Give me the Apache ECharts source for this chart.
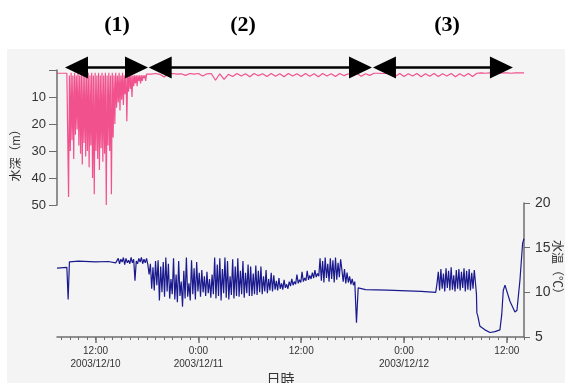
<!DOCTYPE html>
<html>
<head>
<meta charset="utf-8">
<script src="https://cdn.jsdelivr.net/npm/echarts@6/dist/echarts.min.js"></script>
<style>
  html, body { margin: 0; padding: 0; background: #fff; }
  #chart { width: 565px; height: 383px; }
</style>
</head>
<body>
<div id="chart"></div>
<script>
// all times are hours counted from 2003/12/10 0:00
const axisStartHour = 7.5;
const axisEndHour = 62;
const labelHours = [12, 24, 36, 48, 60];
const labelTexts = ['12:00\n2003/12/10', '0:00\n2003/12/11', '12:00', '0:00\n2003/12/12', '12:00'];
const periodNames = ['(1)', '(2)', '(3)'];
const periodHours = [[8.43, 18.12], [18.2, 44.26], [44.37, 60.71]];

// depth (m)
const depthLead = [[7.5, 1.2], [8.65, 1.2]];
const depthDiveStart = 8.75;
const depthDiveStep = 0.1;
const depthDives = [
  1, 47, 2, 30, 1, 26, 2, 33, 1, 24,
  2, 22, 1, 28, 2, 31, 1, 35, 2, 27,
  1, 32, 2, 30, 1, 36, 2, 28, 1, 40,
  2, 46, 1, 30, 2, 33, 1, 37, 2, 29,
  1, 34, 2, 31, 1, 50, 2, 28, 1, 30,
  2, 46, 1, 25, 2, 20, 1, 14, 2, 12,
  1, 15, 2, 11, 1, 13, 2, 9, 1, 19,
  2, 8, 1, 7, 2, 10, 2, 6, 2, 5,
  2, 6, 2, 4, 2, 5, 2, 4, 2, 3,
  2, 4, 1.5
];
const depthSurfaceStart = 18.5;
const depthSurfaceStep = 0.5;
const depthSurface = [
  1.5, 1.3, 1.6, 2.6, 1.4, 1.3, 1.5,
  1.4, 2.0, 1.3, 1.5, 1.3, 2.2, 1.4, 1.3,
  3.8, 1.4, 3.5, 1.6,
  2.4, 1.3, 2.2, 1.4, 2.5, 1.3, 2.1, 1.4, 2.4, 1.3, 2.3, 1.4, 2.5, 1.3,
  2.2, 1.4, 2.4, 1.3, 2.3, 1.4, 2.5, 1.3, 2.2, 1.4, 2.4, 1.3, 2.1, 1.4,
  2.2, 1.3, 2.3, 1.4, 2.0, 1.2,
  1.2, 1.3, 1.2, 1.3,
  2.3, 1.3, 2.4, 1.4, 2.2, 1.3, 2.5, 1.4, 2.3, 1.3,
  2.4, 1.4, 2.2, 1.3, 2.5, 1.4, 2.3, 1.3, 2.4, 1.2,
  1.1, 1.2, 1.1, 1.1, 1.2, 1.1, 1.1, 1.2, 1.1, 1.1, 1.1
];

// water temperature (°C)
const tempLead = [[7.5, 12.7], [8.65, 12.8], [8.8, 9.2], [8.95, 13.4], [10, 13.5], [12, 13.4], [13.5, 13.45], [14.35, 13.3]];
const tempNoisyAStart = 14.5;
const tempNoisyAStep = 0.15;
const tempNoisyA = [
  13.3, 13.8, 13.2, 13.7, 13.4, 13.9, 13.1, 13.8, 13.3, 13.6, 13.2, 13.9, 13.3, 13.7, 11.3,
  13.5, 13.2, 13.8, 13.4, 13.9, 13.2, 13.7, 13.3, 13.8, 13.1,
  12.0, 13.2, 10.4, 12.8, 10.2, 13.5, 10.8, 13.6, 9.1, 12.9, 10.0, 13.4,
  9.5, 13.9, 10.1, 13.2, 9.3, 11.5, 9.8, 13.8, 9.2, 12.0, 8.9, 13.5, 9.6, 11.2, 8.4, 12.4, 9.3, 13.9, 9.5, 11.0,
  9.1, 13.6, 9.8, 12.7, 9.2, 13.4, 10.1, 12.2,
  9.5, 12.5, 10.0, 11.8, 9.6, 12.3, 9.9, 11.5, 9.4, 12.0, 9.8,
  13.9, 9.3, 13.1, 9.6, 13.8, 9.1, 12.6, 9.9, 13.9, 9.4, 13.5, 9.2, 11.8, 9.7,
  13.7, 9.3, 12.9, 9.6, 13.8, 9.5, 12.4, 9.8, 13.5, 9.4, 12.2, 9.9, 13.1, 9.6,
  12.9, 9.6, 12.1, 9.8, 13.0, 9.7, 12.4, 10.0, 12.9, 9.8, 11.8, 10.1, 12.5, 9.9, 11.5, 10.2,
  12.2, 10.1, 11.9, 10.3, 11.3, 10.2, 11.6, 10.4, 11.0, 10.3, 11.4, 10.5, 10.9, 10.4, 11.2,
  10.7, 11.5, 10.8, 11.2, 10.9, 12.0, 11.0, 11.4, 11.1, 12.3, 11.2, 11.6,
  11.3, 12.4, 11.4, 11.9, 11.5, 12.2, 11.6, 12.5, 11.7, 12.1, 11.8,
  13.8, 11.3, 13.5, 11.1, 13.9, 11.6, 13.2, 11.2, 13.8, 11.5, 13.6, 11.1, 13.9, 11.4, 13.3, 11.7, 13.7,
  12.5, 11.2, 12.6, 11.0, 12.2, 11.1, 11.8, 10.9, 11.5, 10.8, 11.2
];
const tempMid = [[42.45, 6.6], [42.65, 10.5], [43.5, 10.3], [46, 10.25], [50, 10.1], [51.7, 10.0]];
const tempNoisyBStart = 51.85;
const tempNoisyBStep = 0.15;
const tempNoisyB = [
  11.0, 12.3, 10.2, 12.6, 10.4, 12.1, 10.1, 12.7, 10.5, 12.4,
  10.2, 12.8, 10.3, 11.9, 10.1, 12.5, 10.4, 12.6, 10.2, 12.3,
  10.5, 12.7, 10.1, 12.4, 10.3, 12.6, 10.2, 12.2, 10.4, 12.5, 10.9
];
const tempTail = [
  [56.45, 9.8], [56.5, 7.7], [56.6, 7.4], [56.86, 6.2], [57.44, 5.8], [58.03, 5.5],
  [58.61, 5.6], [59.19, 5.8], [59.4, 7.5], [59.58, 10.2], [59.78, 10.8], [60.36, 9.0],
  [60.94, 7.8], [61.18, 8.0], [61.53, 11.4], [61.84, 15.5], [62.0, 16.0]
];

function regular(start, step, values) {
  return values.map((v, i) => [start + i * step, v]);
}

const depthData = depthLead
  .concat(regular(depthDiveStart, depthDiveStep, depthDives))
  .concat(regular(depthSurfaceStart, depthSurfaceStep, depthSurface));
const tempData = tempLead
  .concat(regular(tempNoisyAStart, tempNoisyAStep, tempNoisyA))
  .concat(tempMid)
  .concat(regular(tempNoisyBStart, tempNoisyBStep, tempNoisyB))
  .concat(tempTail);

const tickHours = [];
for (let h = Math.ceil(axisStartHour); h <= axisEndHour; h++) tickHours.push(h);

const font = '"Liberation Sans", "Noto Sans CJK JP", sans-serif';
const axisColor = '#6e6e6e';
const textColor = '#333';

const chart = echarts.init(document.getElementById('chart'), null, { renderer: 'canvas' });

const option = {
  animation: false,
  backgroundColor: '#fff',
  textStyle: { fontFamily: font, color: textColor },
  grid: [
    { left: 57, right: 41, top: 70, height: 135, outerBoundsMode: 'none', containLabel: false },
    { left: 57, right: 41, top: 203, height: 134, outerBoundsMode: 'none', containLabel: false }
  ],
  xAxis: [
    { gridIndex: 0, type: 'value', min: axisStartHour, max: axisEndHour, show: false },
    {
      gridIndex: 1, type: 'value', position: 'bottom', min: axisStartHour, max: axisEndHour,
      axisLine: { lineStyle: { color: axisColor, width: 1.5 } },
      axisTick: { customValues: tickHours, length: 3, lineStyle: { color: axisColor } },
      axisLabel: {
        customValues: labelHours,
        formatter: v => labelTexts[labelHours.indexOf(Math.round(v))] || '',
        fontSize: 10, color: textColor, margin: 8, lineHeight: 13
      },
      splitLine: { show: false },
      name: '日時', nameLocation: 'middle', nameGap: 36, nameMoveOverlap: false,
      nameTextStyle: { fontSize: 14, color: textColor, padding: [0, 20, 0, 0] }
    },
    {
      gridIndex: 1, type: 'value', position: 'bottom', min: axisStartHour, max: axisEndHour,
      axisLine: { show: false },
      axisTick: { customValues: labelHours, length: 6, lineStyle: { color: axisColor, width: 1.5 } },
      axisLabel: { show: false },
      splitLine: { show: false }
    }
  ],
  yAxis: [
    {
      gridIndex: 0, type: 'value', position: 'left', inverse: true, min: 0, max: 50, interval: 10,
      axisLine: { show: true, lineStyle: { color: axisColor, width: 1.5 } },
      axisTick: { show: true, length: 8, lineStyle: { color: axisColor } },
      axisLabel: { fontSize: 13, color: textColor, margin: 11, formatter: v => (v === 0 ? '' : v) },
      splitLine: { show: false },
      name: '水深（m）', nameLocation: 'middle', nameGap: 34, nameRotate: 90, nameMoveOverlap: false,
      nameTextStyle: { fontSize: 12, color: textColor, padding: [0, 30, 0, 0] }
    },
    {
      gridIndex: 1, type: 'value', position: 'right', min: 5, max: 20, interval: 5,
      axisLine: { show: true, lineStyle: { color: axisColor, width: 1.5 } },
      axisTick: { show: true, length: 6, lineStyle: { color: axisColor } },
      axisLabel: { fontSize: 14, color: textColor, margin: 11 },
      splitLine: { show: false },
      name: '水温（℃）', nameLocation: 'middle', nameGap: 26, nameRotate: -90, nameMoveOverlap: false,
      nameTextStyle: { fontSize: 12, color: textColor }
    }
  ],
  series: [
    {
      name: '水深', type: 'line', xAxisIndex: 0, yAxisIndex: 0, data: depthData,
      showSymbol: false, lineStyle: { color: 'rgba(240, 40, 115, 0.8)', width: 1.2 }
    },
    {
      name: '水温', type: 'line', xAxisIndex: 1, yAxisIndex: 1, data: tempData,
      showSymbol: false, lineStyle: { color: '#1a1a8e', width: 1.2 }
    }
  ]
};

chart.setOption(option);

// panel background, period labels and period arrows
const arrowDepth = -0.95;
const headLen = 23;
const headHalf = 11;
const labelX = [117, 243, 447];
const graphics = [
  { type: 'rect', z: -10, silent: true, shape: { x: 7, y: 49, width: 558, height: 334 }, style: { fill: '#f4f4f4' } }
];
periodNames.forEach((name, i) => {
  graphics.push({
    type: 'text', x: labelX[i], y: 25, z: 100,
    style: { text: name, font: 'bold 22px "Liberation Serif", serif', fill: '#000', align: 'center', verticalAlign: 'middle' }
  });
});
periodHours.forEach(([a, b]) => {
  const p1 = chart.convertToPixel({ gridIndex: 0 }, [a, arrowDepth]);
  const p2 = chart.convertToPixel({ gridIndex: 0 }, [b, arrowDepth]);
  const y = p1[1];
  graphics.push({
    type: 'line', z: 100,
    shape: { x1: p1[0] + headLen - 2, y1: y, x2: p2[0] - headLen + 2, y2: y },
    style: { stroke: '#000', lineWidth: 2.5 }
  });
  graphics.push({
    type: 'polygon', z: 100,
    shape: { points: [[p1[0], y], [p1[0] + headLen, y - headHalf], [p1[0] + headLen, y + headHalf]] },
    style: { fill: '#000' }
  });
  graphics.push({
    type: 'polygon', z: 100,
    shape: { points: [[p2[0], y], [p2[0] - headLen, y - headHalf], [p2[0] - headLen, y + headHalf]] },
    style: { fill: '#000' }
  });
});
chart.setOption({ graphic: graphics });
</script>
</body>
</html>
